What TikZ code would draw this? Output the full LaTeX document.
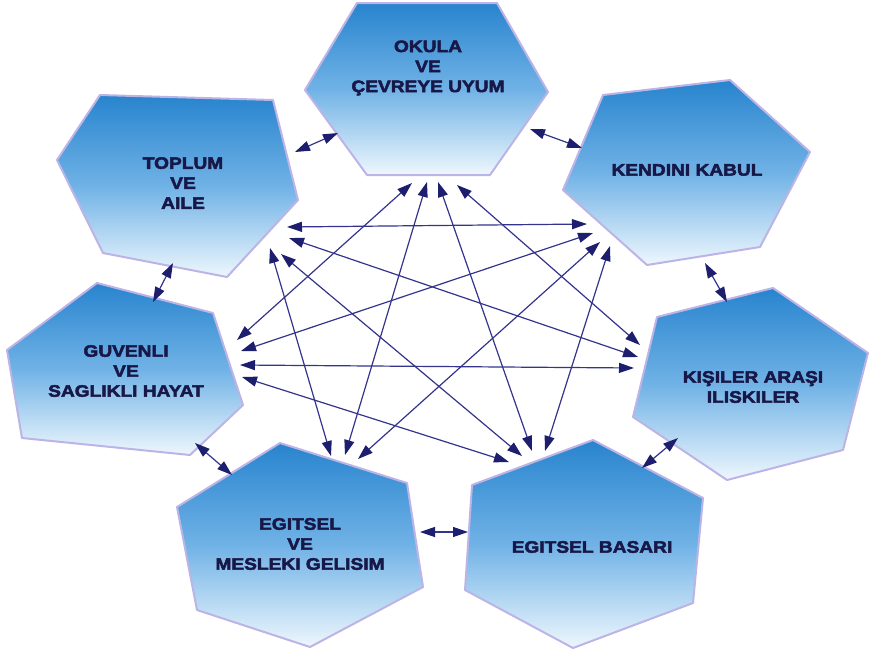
\documentclass[tikz,border=0pt]{standalone}
\usepackage{fontspec}
\newfontfamily\hexfont[FakeStretch=1.16,BoldFeatures={FakeBold=3}]{Liberation Sans}
\usetikzlibrary{arrows.meta}
\definecolor{linkcol}{RGB}{52,52,140}
\definecolor{tipcol}{RGB}{30,30,110}
\definecolor{txtcol}{RGB}{24,24,72}
\definecolor{hextop}{RGB}{40,132,206}
\definecolor{hexmid}{RGB}{112,178,230}
\definecolor{hexbot}{RGB}{238,247,253}
\definecolor{hexrim}{RGB}{188,180,230}
\tikzset{
  hexbox/.style={top color=hextop, bottom color=hexbot, middle color=hexmid, draw=hexrim, line width=2pt, line join=round},
  lbl/.style={text=txtcol, font=\hexfont\bfseries\fontsize{16.5}{20}\selectfont, align=center, inner sep=0pt},
  link/.style={draw=linkcol, line width=1.2pt, >={Triangle[length=15pt,width=10pt,color=tipcol]}, <->},
}
\begin{document}
\begin{tikzpicture}[x=1pt,y=-1pt]
\fill[white] (0,0) rectangle (872,654);
\useasboundingbox (0,0) rectangle (872,654);

% hexagons
\path[hexbox] (357,3) -- (497,3) -- (548,92) -- (490,175) -- (367,175) -- (305,90) -- cycle;
\path[hexbox] (603,95) -- (730,80) -- (810,152) -- (760,247) -- (647,265) -- (563,190) -- cycle;
\path[hexbox] (657,317) -- (773,288) -- (868,353) -- (843,450) -- (727,480) -- (633,417) -- cycle;
\path[hexbox] (593,440) -- (703,498) -- (693,603) -- (573,648) -- (465,590) -- (472,485) -- cycle;
\path[hexbox] (280,443) -- (407,483) -- (423,587) -- (310,647) -- (197,610) -- (177,507) -- cycle;
\path[hexbox] (97,283) -- (213,313) -- (243,405) -- (190,455) -- (22,438) -- (7,350) -- cycle;
\path[hexbox] (100,95) -- (273,100) -- (298,200) -- (227,277) -- (103,253) -- (57,160) -- cycle;

% labels
\node[lbl] (okula) at (428,68) {OKULA\\VE\\ÇEVREYE UYUM};
\node[lbl] (kendini) at (687,170) {KENDINI KABUL};
\node[lbl] (kisiler) at (753,387) {KIŞILER ARAŞI\\ILISKILER};
\node[lbl] (basari) at (592,547) {EGITSEL BASARI};
\node[lbl] (mesleki) at (300,544) {EGITSEL\\VE\\MESLEKI GELISIM};
\node[lbl] (guvenli) at (126,371) {GUVENLI\\VE\\SAGLIKLI HAYAT};
\node[lbl] (toplum) at (183,183) {TOPLUM\\VE\\AILE};

% attach points
\coordinate (og) at (412,183); \coordinate (om) at (427,182);
\coordinate (ob) at (438,182); \coordinate (ok) at (457,185);
\coordinate (tk) at (287,227); \coordinate (ti) at (289,238);
\coordinate (tm) at (270,248); \coordinate (tb) at (281,254);
\coordinate (kt) at (587,224); \coordinate (kg) at (593,233);
\coordinate (km) at (600,242); \coordinate (kb) at (610,246);
\coordinate (go) at (237,340); \coordinate (gk) at (241,351);
\coordinate (gi) at (240,365); \coordinate (gb) at (242,377);
\coordinate (io) at (640,345); \coordinate (it) at (638,357);
\coordinate (ig) at (634,368);
\coordinate (mt) at (331,456); \coordinate (mo) at (345,455);
\coordinate (mk) at (358,459);
\coordinate (bg) at (509,462); \coordinate (bt) at (522,456);
\coordinate (bo) at (532,451); \coordinate (bk) at (545,451);

% short links between neighbours
\coordinate (s1a) at (295,152); \coordinate (s1b) at (338,133);
\coordinate (s2a) at (530,129); \coordinate (s2b) at (582,148);
\coordinate (s3a) at (705,263); \coordinate (s3b) at (727,302);
\coordinate (s4a) at (678,438); \coordinate (s4b) at (642,468);
\coordinate (s5a) at (468,532); \coordinate (s5b) at (420,532);
\coordinate (s6a) at (232,475); \coordinate (s6b) at (195,443);
\coordinate (s7a) at (153,302); \coordinate (s7b) at (173,263);
\foreach \n in {1,...,7} {\draw[link] (s\n a) -- (s\n b);}

% long links
\draw[link] (og) -- (go);
\draw[link] (om) -- (mo);
\draw[link] (ob) -- (bo);
\draw[link] (ok) -- (io);
\draw[link] (tk) -- (kt);
\draw[link] (ti) -- (it);
\draw[link] (tm) -- (mt);
\draw[link] (tb) -- (bt);
\draw[link] (kg) -- (gk);
\draw[link] (km) -- (mk);
\draw[link] (kb) -- (bk);
\draw[link] (gi) -- (ig);
\draw[link] (gb) -- (bg);
\end{tikzpicture}
\end{document}
